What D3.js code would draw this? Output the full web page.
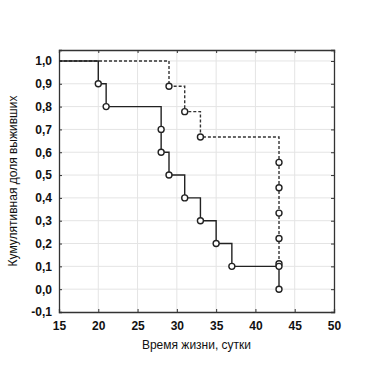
<!DOCTYPE html>
<html>
<head>
<meta charset="utf-8">
<script src="https://cdn.jsdelivr.net/npm/d3@7"></script>
<style>
  body { margin: 0; background: #fff; }
  text { font-family: "Liberation Sans", Arial, sans-serif; fill: #111; }
</style>
</head>
<body>
<svg id="chart" width="372" height="367"></svg>
<script>
// Kaplan-Meier curves (time, cumulative proportion surviving)
const solidTimes = [20, 21, 28, 28, 29, 31, 33, 35, 37, 43, 43];
const solidSurv  = [0.9, 0.8, 0.7, 0.6, 0.5, 0.4, 0.3, 0.2, 0.1, 0.1, 0.0];
const dashTimes  = [29, 31, 33, 43, 43, 43, 43, 43];
const dashSurv   = [8/9, 7/9, 6/9, 5/9, 4/9, 3/9, 2/9, 1/9];

const xTicks = [15, 20, 25, 30, 35, 40, 45, 50];
const yTicks = [-0.1, 0, 0.1, 0.2, 0.3, 0.4, 0.5, 0.6, 0.7, 0.8, 0.9, 1.0];

const margin = { left: 59, top: 50, right: 38, bottom: 55 };
const width = 372, height = 367;

const svg = d3.select('#chart');
const x = d3.scaleLinear().domain([15, 50]).range([margin.left, width - margin.right]);
const y = d3.scaleLinear().domain([-0.1, 1.048]).range([height - margin.bottom, margin.top]);

const fmt = d => d3.format('.1f')(d).replace('.', ',').replace('−', '-');

// grid
svg.append('g').selectAll('line.gx')
  .data(xTicks.slice(1, -1)).enter().append('line')
  .attr('x1', d => x(d)).attr('x2', d => x(d))
  .attr('y1', y.range()[1]).attr('y2', y.range()[0])
  .attr('stroke', '#e4e4e4').attr('stroke-width', 1);
svg.append('g').selectAll('line.gy')
  .data(yTicks.slice(1)).enter().append('line')
  .attr('x1', x.range()[0]).attr('x2', x.range()[1])
  .attr('y1', d => y(d)).attr('y2', d => y(d))
  .attr('stroke', '#e4e4e4').attr('stroke-width', 1);

// axes (ticks inward)
svg.append('g')
  .attr('transform', `translate(0,${y.range()[0]})`)
  .call(d3.axisBottom(x).tickValues(xTicks).tickSize(-3).tickPadding(9).tickFormat(d3.format('d')));
svg.append('g')
  .attr('transform', `translate(${x.range()[0]},0)`)
  .call(d3.axisLeft(y).tickValues(yTicks).tickSize(-3).tickPadding(7).tickFormat(fmt));
svg.append('g')
  .attr('transform', `translate(0,${y.range()[1]})`)
  .call(d3.axisTop(x).tickValues(xTicks).tickSize(-3).tickFormat(''));
svg.append('g')
  .attr('transform', `translate(${x.range()[1]},0)`)
  .call(d3.axisRight(y).tickValues(yTicks).tickSize(-3).tickFormat(''));

svg.selectAll('.domain').attr('stroke', '#333').attr('stroke-width', 1.3);
svg.selectAll('.tick line').attr('stroke', '#333');
svg.selectAll('.tick text').style('font-size', '12px').style('font-weight', 'bold').attr('fill', '#1a1a1a');

// step path builder
function stepPoints(times, surv) {
  const pts = [[15, 1.0]];
  let prev = 1.0;
  times.forEach((t, i) => {
    pts.push([t, prev]);
    pts.push([t, surv[i]]);
    prev = surv[i];
  });
  return pts;
}
const line = d3.line().x(d => x(d[0])).y(d => y(d[1]));

svg.append('path')
  .datum(stepPoints(dashTimes, dashSurv))
  .attr('d', line).attr('fill', 'none')
  .attr('stroke', '#333').attr('stroke-width', 1.4)
  .attr('stroke-dasharray', '3,2');

svg.append('path')
  .datum(stepPoints(solidTimes, solidSurv))
  .attr('d', line).attr('fill', 'none')
  .attr('stroke', '#222').attr('stroke-width', 1.4);

function drawCircles(times, surv) {
  svg.append('g').selectAll('circle')
    .data(times.map((t, i) => [t, surv[i]])).enter().append('circle')
    .attr('cx', d => x(d[0])).attr('cy', d => y(d[1]))
    .attr('r', 3).attr('fill', '#fff')
    .attr('stroke', '#222').attr('stroke-width', 1.4);
}
drawCircles(dashTimes, dashSurv);
drawCircles(solidTimes, solidSurv);

// axis labels
svg.append('text')
  .attr('x', (x.range()[0] + x.range()[1]) / 2).attr('y', 349)
  .attr('text-anchor', 'middle').style('font-size', '12px')
  .text('Время жизни, сутки');
svg.append('text')
  .attr('transform', `translate(17,${(y.range()[0] + y.range()[1]) / 2}) rotate(-90)`)
  .attr('text-anchor', 'middle').style('font-size', '12px')
  .text('Кумулятивная доля выживших');
</script>
</body>
</html>
